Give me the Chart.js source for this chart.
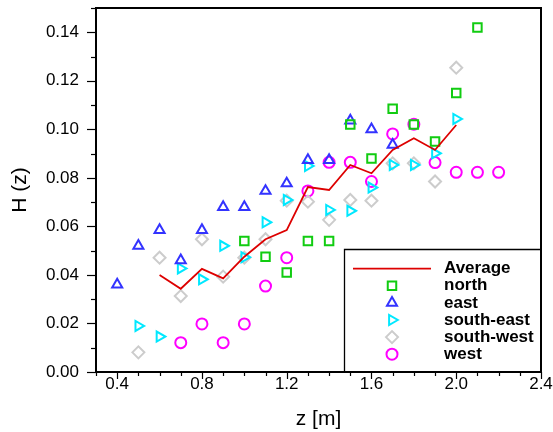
<!doctype html>
<html lang="en">
  <head>
    <meta charset="utf-8">
    <title>H(z) chart</title>
    <script src="https://cdn.jsdelivr.net/npm/chart.js"></script>
    <style>
      html, body { margin: 0; padding: 0; background: #fff; }
      #wrap { width: 553px; height: 432px; }
    </style>
  </head>
  <body>
    <div id="wrap"><canvas id="hChart" width="553" height="432"></canvas></div>

    <script type="text/javascript">
      // data
      var northZ = [1.0, 1.1, 1.2, 1.3, 1.4, 1.5, 1.6, 1.7, 1.8, 1.9, 2.0, 2.1];
      var northH = [0.054, 0.0475, 0.041, 0.054, 0.054, 0.102, 0.088, 0.1085, 0.102, 0.095, 0.115, 0.142];

      var eastZ = [0.4, 0.5, 0.6, 0.7, 0.8, 0.9, 1.0, 1.1, 1.2, 1.3, 1.4, 1.5, 1.6, 1.7];
      var eastH = [0.036, 0.052, 0.0585, 0.046, 0.0585, 0.068, 0.068, 0.0746, 0.0777, 0.0873, 0.0873, 0.1036, 0.100, 0.0936];

      var southEastZ = [0.5, 0.6, 0.7, 0.8, 0.9, 1.0, 1.1, 1.2, 1.3, 1.4, 1.5, 1.6, 1.7, 1.8, 1.9, 2.0];
      var southEastH = [0.019, 0.0146, 0.0427, 0.0382, 0.052, 0.0473, 0.0617, 0.0709, 0.0849, 0.0668, 0.0664, 0.076, 0.0853, 0.0853, 0.0901, 0.1043];

      var southWestZ = [0.5, 0.6, 0.7, 0.8, 0.9, 1.0, 1.1, 1.2, 1.3, 1.4, 1.5, 1.6, 1.7, 1.8, 1.9, 2.0];
      var southWestH = [0.0081, 0.0471, 0.0313, 0.0547, 0.0393, 0.0471, 0.0547, 0.0706, 0.0702, 0.0627, 0.0709, 0.0706, 0.086, 0.086, 0.0785, 0.1254];

      var westZ = [0.7, 0.8, 0.9, 1.0, 1.1, 1.2, 1.3, 1.4, 1.5, 1.6, 1.7, 1.8, 1.9, 2.0, 2.1, 2.2];
      var westH = [0.0121, 0.0198, 0.0121, 0.0198, 0.0354, 0.0471, 0.0746, 0.0864, 0.0864, 0.0785, 0.0981, 0.1021, 0.0863, 0.0823, 0.0823, 0.0823];

      var averageZ = [0.6, 0.7, 0.8, 0.9, 1.0, 1.1, 1.2, 1.3, 1.4, 1.5, 1.6, 1.7, 1.8, 1.9, 2.0];
      var averageH = [0.040, 0.0343, 0.0425, 0.0386, 0.0475, 0.0547, 0.0585, 0.0762, 0.075, 0.0853, 0.0819, 0.0915, 0.0963, 0.0915, 0.1018];

      var xTickLabels = [0.4, 0.8, 1.2, 1.6, 2.0, 2.4];
      var yTickLabels = [0, 0.02, 0.04, 0.06, 0.08, 0.10, 0.12, 0.14];
      var xMinorStep = 0.1;
      var yMinorStep = 0.01;

      function pts(zs, hs) {
        return zs.map(function (z, i) { return { x: z, y: hs[i] }; });
      }

      var series = [
        { label: 'Average', data: pts(averageZ, averageH), color: '#dd0000', line: true },
        { label: 'north', data: pts(northZ, northH), color: '#11cc11', style: 'rect', radius: 6, rot: 0 },
        { label: 'east', data: pts(eastZ, eastH), color: '#3333ff', style: 'triangle', radius: 5.8, rot: 0 },
        { label: 'south-east', data: pts(southEastZ, southEastH), color: '#00e8ff', style: 'triangle', radius: 5.8, rot: 90 },
        { label: 'south-west', data: pts(southWestZ, southWestH), color: '#cccccc', style: 'rectRot', radius: 6, rot: 0 },
        { label: 'west', data: pts(westZ, westH), color: '#ff00ff', style: 'circle', radius: 5.5, rot: 0 }
      ];

      var datasets = series.map(function (s, i) {
        if (s.line) {
          return {
            label: s.label, data: s.data, showLine: true,
            borderColor: s.color, borderWidth: 1.8, pointRadius: 0,
            fill: false, order: 0
          };
        }
        return {
          label: s.label, data: s.data, showLine: false,
          pointStyle: s.style, pointRadius: s.radius, pointRotation: s.rot,
          pointBorderColor: s.color, pointBackgroundColor: 'rgba(0,0,0,0)',
          pointBorderWidth: 2, order: i
        };
      });

      // frame, minor/major tick marks and the boxed legend
      var decorPlugin = {
        id: 'decor',
        afterDraw: function (chart) {
          var ctx = chart.ctx;
          var a = chart.chartArea;
          var xs = chart.scales.x, ys = chart.scales.y;
          var L = a.left, R = a.right, T = a.top, B = a.bottom;
          ctx.save();
          ctx.strokeStyle = '#000';
          ctx.lineWidth = 1.2;
          var i, v, px, major;
          for (i = 0; i <= Math.round((xs.max - xs.min) / xMinorStep); i++) {
            v = xs.min + i * xMinorStep;
            px = Math.round(xs.getPixelForValue(v)) + 0.5;
            major = Math.abs(v / 0.4 - Math.round(v / 0.4)) < 1e-6;
            ctx.beginPath();
            ctx.moveTo(px, B);
            ctx.lineTo(px, B + (major ? 7 : 4));
            ctx.stroke();
          }
          for (i = 0; i <= Math.round((ys.max - ys.min) / yMinorStep); i++) {
            v = ys.min + i * yMinorStep;
            px = Math.round(ys.getPixelForValue(v)) + 0.5;
            major = Math.abs(v / 0.02 - Math.round(v / 0.02)) < 1e-6;
            ctx.beginPath();
            ctx.moveTo(L, px);
            ctx.lineTo(L - (major ? 9 : 5), px);
            ctx.stroke();
          }
          ctx.lineWidth = 2;
          ctx.beginPath();
          ctx.moveTo(L, T);
          ctx.lineTo(R, T);
          ctx.lineTo(R, B);
          ctx.lineTo(L, B);
          ctx.closePath();
          ctx.stroke();

          // legend box
          var bx = 344, by = 249;
          ctx.fillStyle = '#fff';
          ctx.fillRect(bx, by, R - bx, B - by);
          ctx.lineWidth = 1.3;
          ctx.beginPath();
          ctx.moveTo(bx + 0.5, B);
          ctx.lineTo(bx + 0.5, by + 0.5);
          ctx.lineTo(R, by + 0.5);
          ctx.stroke();
          ctx.lineWidth = 2;
          ctx.beginPath();
          ctx.moveTo(R, by);
          ctx.lineTo(R, B);
          ctx.lineTo(bx, B);
          ctx.stroke();

          ctx.font = 'bold 17px "Liberation Sans", Arial, sans-serif';
          ctx.textBaseline = 'middle';
          ctx.textAlign = 'left';
          series.forEach(function (s, k) {
            var ry = 268.7 + k * 17.1;
            if (s.line) {
              ctx.strokeStyle = s.color;
              ctx.lineWidth = 1.8;
              ctx.beginPath();
              ctx.moveTo(353, ry);
              ctx.lineTo(431, ry);
              ctx.stroke();
            } else {
              ctx.strokeStyle = s.color;
              ctx.fillStyle = 'rgba(0,0,0,0)';
              ctx.lineWidth = 2;
              Chart.helpers.drawPoint(ctx, {
                pointStyle: s.style, radius: s.radius, rotation: s.rot, borderWidth: 2
              }, 392, ry);
            }
            ctx.fillStyle = '#000';
            ctx.fillText(s.label, 444, ry);
          });
          ctx.restore();
        }
      };

      var tickFont = { family: '"Liberation Sans", Arial, sans-serif', size: 17 };
      var titleFont = { family: '"Liberation Sans", Arial, sans-serif', size: 21 };

      new Chart(document.getElementById('hChart').getContext('2d'), {
        type: 'scatter',
        data: { datasets: datasets },
        plugins: [decorPlugin],
        options: {
          responsive: false,
          animation: false,
          layout: { padding: { top: 7, right: 12, left: 0, bottom: 0 } },
          plugins: { legend: { display: false }, tooltip: { enabled: false } },
          scales: {
            x: {
              type: 'linear', min: 0.3, max: 2.4,
              grid: { display: false, drawTicks: false, tickLength: 0 },
              border: { display: false },
              afterBuildTicks: function (axis) {
                axis.ticks = xTickLabels.map(function (v) { return { value: v }; });
              },
              afterFit: function (axis) {
                axis.height = 60;
                axis.paddingLeft = 0; axis.paddingRight = 0;
              },
              ticks: {
                color: '#000', font: tickFont, padding: 2, maxRotation: 0, autoSkip: false,
                callback: function (v) { return Number(v).toFixed(1); }
              },
              title: { display: true, text: 'z [m]', color: '#000', font: titleFont, padding: { top: 0, bottom: 0 } }
            },
            y: {
              type: 'linear', min: 0, max: 0.15,
              grid: { display: false, drawTicks: false, tickLength: 0 },
              border: { display: false },
              afterBuildTicks: function (axis) {
                axis.ticks = yTickLabels.map(function (v) { return { value: v }; });
              },
              afterFit: function (axis) {
                axis.width = 96;
                axis.paddingTop = 0; axis.paddingBottom = 0;
              },
              ticks: {
                color: '#000', font: tickFont, padding: 17, autoSkip: false,
                callback: function (v) { return Number(v).toFixed(2); }
              },
              title: { display: true, text: 'H (z)', color: '#000', font: titleFont, padding: { top: 8, bottom: 0 } }
            }
          }
        }
      });
    </script>
  </body>
</html>
